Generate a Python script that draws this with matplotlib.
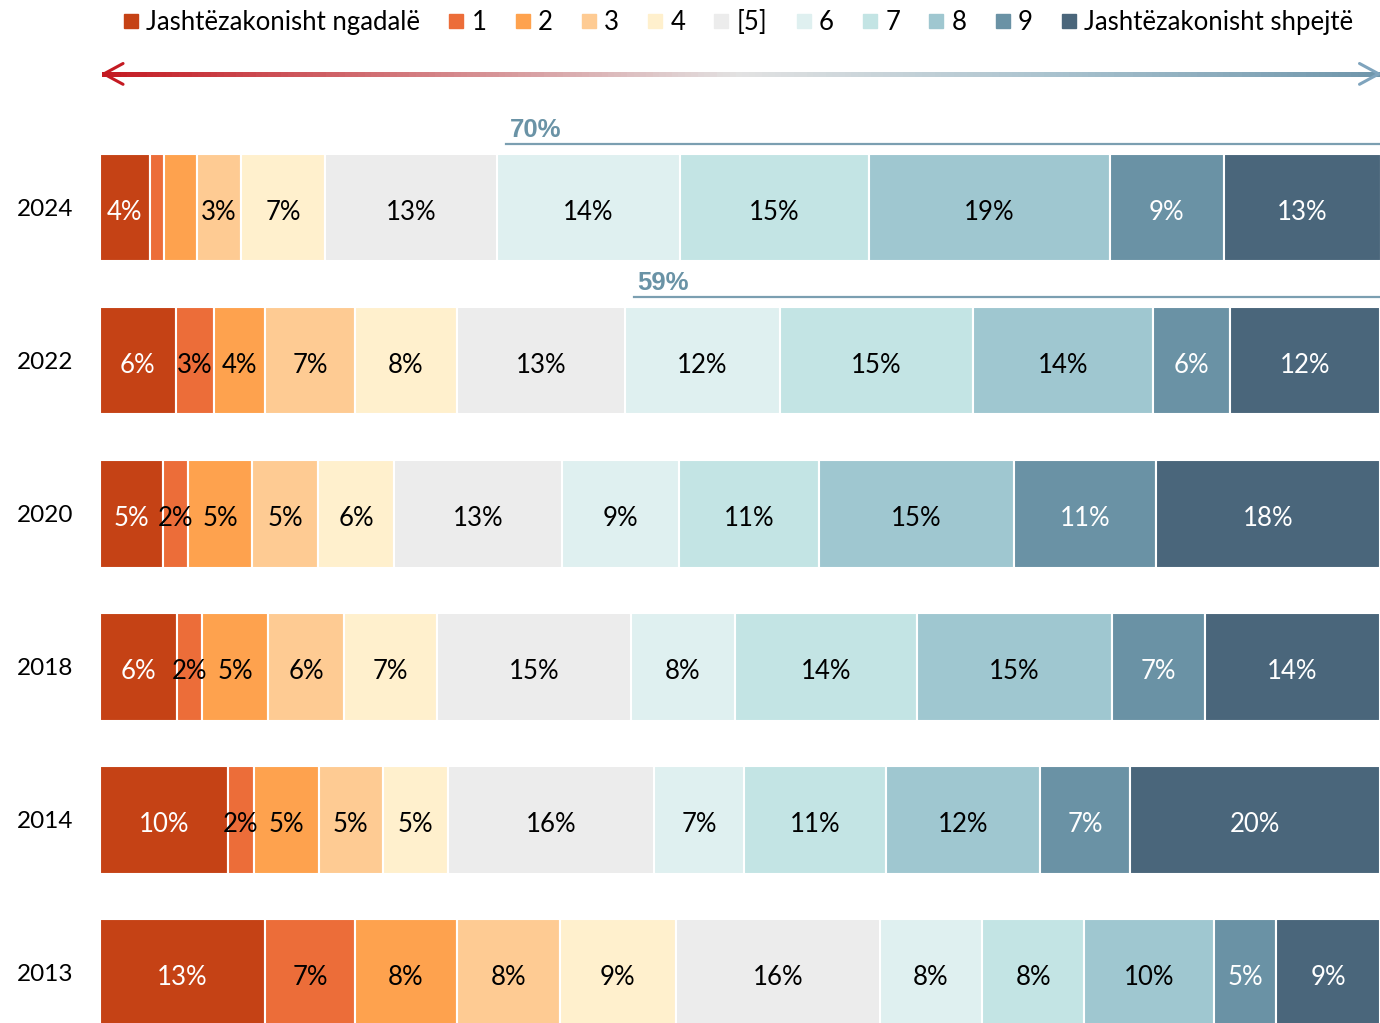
import numpy as np
import matplotlib
matplotlib.use("Agg")
import matplotlib.pyplot as plt
from matplotlib.collections import LineCollection
from matplotlib.colors import LinearSegmentedColormap
from matplotlib.lines import Line2D

plt.rcParams['font.family'] = ['Lato', 'DejaVu Sans']

# kategorier (legend)
categories = ['Jashtëzakonisht ngadalë', '1', '2', '3', '4', '[5]', '6', '7', '8', '9',
              'Jashtëzakonisht shpejtë']
colors = ['#c54215', '#ec6d39', '#fea24e', '#fecb93', '#fff0cd', '#ececec',
          '#dff0f0', '#c3e4e4', '#9fc7d0', '#6a92a5', '#4a667b']
text_colors = ['white', 'black', 'black', 'black', 'black', 'black',
               'black', 'black', 'black', 'white', 'white']

years = ['2024', '2022', '2020', '2018', '2014', '2013']

# andelar per år
v2024 = [3.9, 1.1, 2.6, 3.4, 6.6, 13.4, 14.3, 14.8, 18.8, 8.9, 12.3]
v2022 = [5.9, 3.0, 4.0, 7.0, 8.0, 13.1, 12.1, 15.1, 14.1, 6.0, 11.7]
v2020 = [4.9, 2.0, 5.0, 5.1, 6.0, 13.1, 9.1, 11.0, 15.2, 11.1, 17.5]
v2018 = [6.0, 2.0, 5.1, 6.0, 7.2, 15.2, 8.1, 14.2, 15.3, 7.2, 13.7]
v2014 = [10.0, 2.0, 5.1, 5.0, 5.1, 16.1, 7.0, 11.1, 12.0, 7.1, 19.5]
v2013 = [12.9, 7.0, 8.0, 8.0, 9.1, 15.9, 8.0, 8.0, 10.1, 4.9, 8.1]

l2024 = ['4%', '', '', '3%', '7%', '13%', '14%', '15%', '19%', '9%', '13%']
l2022 = ['6%', '3%', '4%', '7%', '8%', '13%', '12%', '15%', '14%', '6%', '12%']
l2020 = ['5%', '2%', '5%', '5%', '6%', '13%', '9%', '11%', '15%', '11%', '18%']
l2018 = ['6%', '2%', '5%', '6%', '7%', '15%', '8%', '14%', '15%', '7%', '14%']
l2014 = ['10%', '2%', '5%', '5%', '5%', '16%', '7%', '11%', '12%', '7%', '20%']
l2013 = ['13%', '7%', '8%', '8%', '9%', '16%', '8%', '8%', '10%', '5%', '9%']

values = [v2024, v2022, v2020, v2018, v2014, v2013]
labels = [l2024, l2022, l2020, l2018, l2014, l2013]

# summor som markeras ovanför staplarna
sum_labels = ['70%', '59%']

fig = plt.figure(figsize=(13.8, 10.23), dpi=100)
ax = fig.add_axes([100 / 1380, 0, 1280 / 1380, 1])

y = np.arange(len(years))
for i in range(len(years)):
    left = 0
    for j in range(len(categories)):
        w = values[i][j]
        ax.barh(y[i], w, left=left, height=0.7, color=colors[j],
                edgecolor='white', linewidth=1.5)
        if labels[i][j]:
            ax.text(left + w / 2, y[i] + 0.03, labels[i][j], ha='center', va='center',
                    fontsize=18.5, color=text_colors[j])
        left += w

ax.set_xlim(0, 100)
ax.set_ylim(5.327, -1.359)
ax.set_yticks(y)
ax.set_yticklabels(years, fontsize=17.5)
ax.tick_params(axis='y', length=0, pad=19)
ax.set_xticks([])
for s in ax.spines.values():
    s.set_visible(False)

# linjer med summor (70% och 59%)
for i, lab in enumerate(sum_labels):
    start = sum(values[i][:6]) + 0.7
    ly = y[i] - 0.418
    ax.plot([start, 100], [ly, ly], color='#7b9fb1', lw=1.6, clip_on=False)
    ax.text(start + 0.3, ly - 0.01, lab, ha='left', va='bottom', fontsize=18.5,
            fontweight='bold', color='#6a93a6', family='Liberation Sans')

# pil med färgövergång
ay = -0.876
xs = np.linspace(0.3, 99.9, 200)
pts = np.array([xs, np.full_like(xs, ay)]).T.reshape(-1, 1, 2)
segs = np.concatenate([pts[:-1], pts[1:]], axis=1)
cmap = LinearSegmentedColormap.from_list('pil', [(0, '#c41a22'), (0.5, '#e2e2e2'),
                                                 (0.75, '#a9c2ce'), (1, '#6f96ab')])
lc = LineCollection(segs, cmap=cmap, linewidth=2.4, clip_on=False,
                    capstyle='projecting', antialiased=False)
lc.set_array(np.linspace(0, 1, len(segs)))
ax.add_collection(lc)
ax.plot([1.8, 0.3, 1.8], [ay - 0.068, ay, ay + 0.068], color='#c41a22',
        lw=2.2, clip_on=False, solid_capstyle='round')
ax.plot([98.4, 99.9, 98.4], [ay - 0.068, ay, ay + 0.068], color='#7fa4bd',
        lw=2.2, clip_on=False, solid_capstyle='round')

handles = [Line2D([], [], marker='s', ls='', markersize=9.5, color=c) for c in colors]
fig.legend(handles, categories, loc='upper center', bbox_to_anchor=(0.535, 1.003),
           ncol=len(categories), frameon=False, fontsize=18.5, handlelength=0.6,
           handletextpad=0.3, columnspacing=1.1, borderaxespad=0.1)

fig.savefig('out.png', dpi=100)
